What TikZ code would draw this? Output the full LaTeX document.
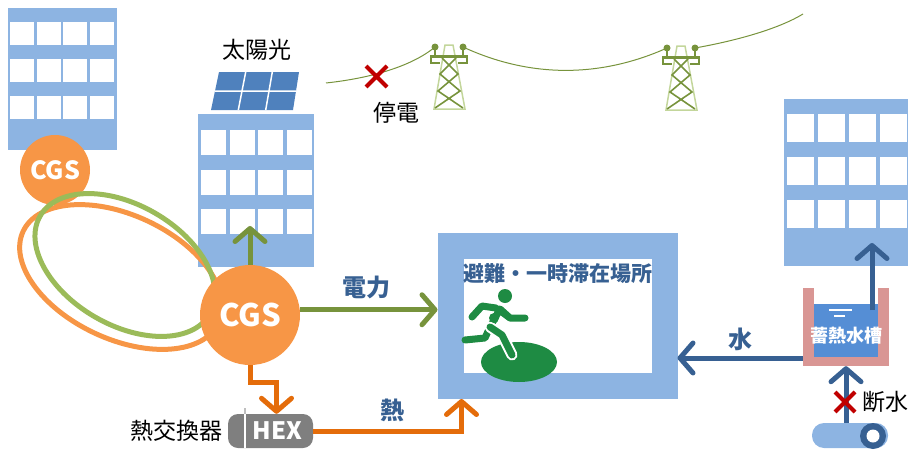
\documentclass[tikz,border=0pt]{standalone}
\usepackage{fontspec}
\newfontfamily\jpfont{Noto Sans CJK JP}
\usetikzlibrary{arrows.meta, positioning, calc}

\definecolor{bldgblue}{HTML}{8DB4E2}
\definecolor{panelblue}{HTML}{4F81BD}
\definecolor{cgsorange}{HTML}{F79646}
\definecolor{heatorange}{HTML}{E46C0A}
\definecolor{ringgreen}{HTML}{9BBB59}
\definecolor{elecgreen}{HTML}{77933C}
\definecolor{leggreen}{HTML}{C3D69B}
\definecolor{navy}{HTML}{376092}
\definecolor{tankpink}{HTML}{D99694}
\definecolor{waterblue}{HTML}{558ED5}
\definecolor{exitgreen}{HTML}{1E8B43}
\definecolor{hexgray}{HTML}{7F7F7F}
\definecolor{crossred}{HTML}{C00000}

\begin{document}
\begin{tikzpicture}[
  x=1pt, y=-1pt,
  font=\jpfont,
  building/.style  = {rectangle, fill=bldgblue, inner sep=0pt, outer sep=0pt, anchor=north west},
  cgs/.style       = {circle, fill=cgsorange, inner sep=0pt, text=white},
  ring/.style      = {line width=5pt},
  caption/.style   = {font=\jpfont\fontsize{23}{26}\selectfont, inner sep=0pt},
  flowlabel/.style = {font=\jpfont\bfseries\fontsize{24}{28}\selectfont, text=navy, inner sep=0pt},
  flow/.style      = {line width=5pt, -{Straight Barb[length=13pt, width=30pt, round]}},
  elecflow/.style  = {flow, draw=elecgreen},
  heatflow/.style  = {flow, draw=heatorange},
  waterflow/.style = {flow, draw=navy},
  redcross/.style  = {draw=crossred, line width=4pt},
  pylon/.pic = {
    \draw[leggreen, line width=1.5pt] (-4,0) -- (-15,64) -- (16,64) -- (4,0) -- cycle;
    \draw[elecgreen, line width=1.6pt] (-7,13) -- (9,29) -- (-11,46) -- (14,63)
      (7,13) -- (-9,29) -- (11,46) -- (-14,63);
    \fill[elecgreen] (-19,10) rectangle (19,13);
    \draw[elecgreen, line width=1.5pt] (-18,13) -- (-18,18) -- (-9,18) (18,13) -- (18,18) -- (9,18)
      (-14,10) -- (-14,3) (14,10) -- (14,3);
    \fill[elecgreen] (-14,2) circle (3.5) (14,2) circle (3.5);
    \coordinate (-l) at (-14,2);
    \coordinate (-r) at (14,2);
  },
]
  \useasboundingbox (0,0) rectangle (908,450);

  % office blocks
  \node[building, minimum width=109pt, minimum height=142pt] (b1) at (8,8) {};
  \node[building, minimum width=116pt, minimum height=153pt] (b2) at (198,114) {};
  \node[building, minimum width=124pt, minimum height=167pt] (b3) at (784,99) {};
  \foreach \i in {0,...,3} \foreach \j in {0,1,2} {
    \fill[white] ({10+26.6*\i},{22+37*\j}) rectangle ++(24,23);
    \fill[white] ({201+28.5*\i},{130+39.5*\j}) rectangle ++(25,25);
    \fill[white] ({787+31*\i},{114+43*\j}) rectangle ++(27,28);
  }

  % solar panel on the roof
  \fill[panelblue] (211,110) -- (293,110) -- (299,72) -- (219,72) -- cycle;
  \draw[white, line width=1.5pt] (215,91) -- (296,91)
    (238.3,110) -- (245.7,72) (265.7,110) -- (272.3,72);
  \node[caption] (pv) at (257,50) {太陽光};

  % grid line and towers
  \pic (t1) at (449,45) {pylon};
  \pic (t2) at (681,46) {pylon};
  \draw[elecgreen, line width=1pt] (326,83) .. controls (372,78) and (412,66) .. (t1-l)
    (t1-r) .. controls (530,78) and (600,78) .. (t2-l)
    (t2-r) .. controls (740,40) and (780,28) .. (803,14);
  \draw[redcross] (366,66) -- (387,87) (387,66) -- (366,87);
  \node[caption] (outage) at (396,113) {停電};

  % CGS network
  \node[cgs, minimum size=70pt, font=\jpfont\bfseries\fontsize{25}{28}\selectfont] (cgs2) at (55,170) {CGS};
  \draw[ring, cgsorange, rotate around={-25:(121,277)}] (121,277) ellipse [x radius=108, y radius=62];
  \draw[ring, ringgreen, rotate around={-30:(125,265)}] (125,265) ellipse [x radius=98, y radius=60];
  \node[cgs, minimum size=100pt, font=\jpfont\bfseries\fontsize{31}{34}\selectfont] (cgs) at (250,315) {CGS};

  % shelter
  \node[rectangle, draw=bldgblue, line width=26pt, fill=white,
        minimum width=214pt, minimum height=140pt] (evac) at (557.5,316) {};
  \node[flowlabel, font=\jpfont\bfseries\fontsize{21}{24}\selectfont, anchor=west]
    (evactitle) at (463,274) {避難・一時滞在場所};
  \fill[exitgreen] (519,362) ellipse [x radius=38, y radius=20];
  \fill[exitgreen] (505,296) circle (7);
  \draw[exitgreen, line width=7pt, line cap=round, line join=round]
    (510,318) -- (500,309) -- (490,327)
    (498,309) -- (510,318) -- (525,318)
    (496,308) -- (482,306) -- (472,317)
    (490,327) -- (485,338) -- (465,340);
  \draw[white, line width=11pt, line cap=round, line join=round] (490,327) -- (502,335) -- (512,355);
  \draw[exitgreen, line width=7pt, line cap=round, line join=round] (490,327) -- (502,335) -- (512,355);
  \fill[exitgreen] (494,318) circle (5);

  % heat exchanger
  \node[rectangle, rounded corners=10pt, fill=hexgray, minimum width=85pt, minimum height=34pt,
        text=white, font=\jpfont\bfseries\fontsize{24}{26}\selectfont] (hex) at (270.5,431) {\hspace*{14pt}HEX};
  \draw[white, line width=1.5pt] (245,414) -- (245,448);
  \draw[hexgray!50, line width=1.5pt] (245,408) -- (245,414);
  \node[caption, left=5pt of hex] (hexname) {熱交換器};

  % storage tank and water main
  \node[rectangle, fill=tankpink, minimum width=86pt, minimum height=78pt, inner sep=0pt] (tank) at (846,327) {};
  \fill[white] (814,287) rectangle (878,357);
  \node[rectangle, fill=waterblue, minimum width=64pt, minimum height=53pt, inner sep=0pt] (tankwater) at (846,330.5) {};
  \draw[white, line width=1.4pt] (829,310) -- (852,310) (834,316) -- (845,316);
  \node[text=white, inner sep=0pt, font=\jpfont\bfseries\fontsize{18}{20}\selectfont] (tanktext) at (846,336) {蓄熱水槽};
  \node[rectangle, rounded corners=12pt, fill=bldgblue, minimum width=76pt, minimum height=25pt] (main) at (850,435.5) {};
  \fill[navy] (873,436) circle (13);
  \fill[white] (873,436) circle (6.5);

  % flows
  \coordinate (pvin) at (250,226);
  \coordinate (b3in) at (872,243);
  \coordinate (tankup) at (872,310);
  \coordinate (tankout) at ([yshift=-31pt]tank.west);
  \draw[elecflow] (cgs) -- (pvin);
  \draw[elecflow] (cgs.6) -- (cgs.6 -| evac.west);
  \draw[heatflow] (cgs.south) -- ++(0,17) -| ([xshift=6pt]hex.north);
  \draw[heatflow] (hex.east) -| ([xshift=24pt]evac.south west);
  \draw[waterflow] (tankout) -- (tankout -| evac.east);
  \draw[waterflow] (tankup) -- (b3in);
  \draw[waterflow] (tank.south |- main.north) -- (tank.south);
  \draw[redcross] (835,392) -- (855,412) (855,392) -- (835,412);

  \node[flowlabel] (powerlbl) at (366,287) {電力};
  \node[flowlabel] (heatlbl) at (392,410) {熱};
  \node[flowlabel] (waterlbl) at (740,339) {水};
  \node[caption, anchor=west] (cutoff) at (862,402) {断水};
\end{tikzpicture}
\end{document}
